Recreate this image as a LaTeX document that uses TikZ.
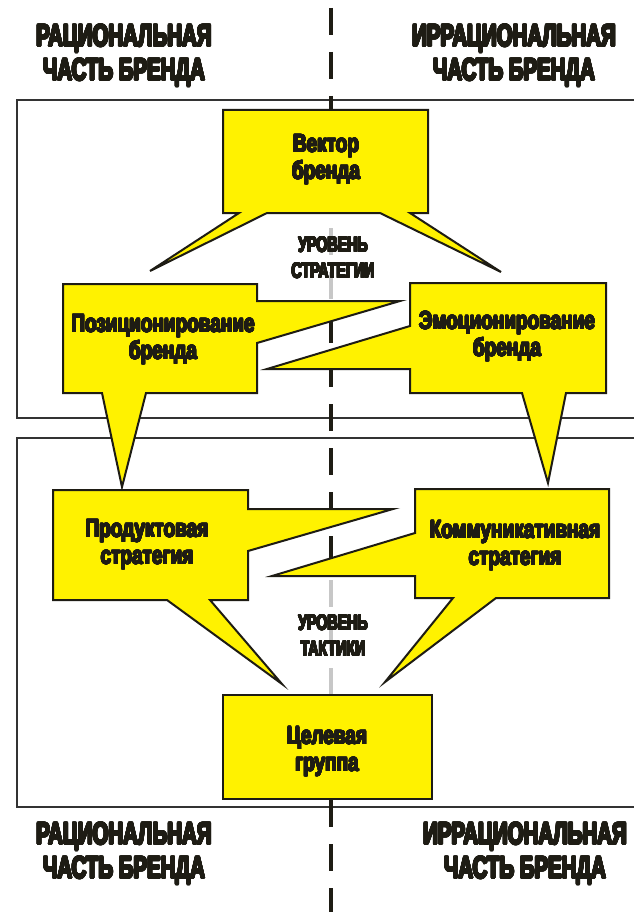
\documentclass[tikz,border=0pt]{standalone}
\usepackage{fontspec}
\usepackage[copies]{contour}
\usepackage{tikz}
\usetikzlibrary{positioning}

\newfontfamily\headfont[FakeStretch=0.66]{Liberation Sans Bold}
\newfontfamily\bubblefont[FakeStretch=0.76]{Liberation Sans Bold}
\definecolor{bubbleyellow}{RGB}{255,242,0}
\definecolor{inkdark}{RGB}{30,28,20}
\contournumber{24}
\newcommand\ink[1]{\contour{inkdark}{#1}}

\begin{document}
\begin{tikzpicture}[x=1pt,y=-1pt,
  frame/.style={draw=black!80,line width=2pt},
  divider/.style={draw=inkdark,line width=4pt,dash pattern=on 27pt off 17pt},
  faded/.style={draw=black!22,line width=3.5pt},
  bubble/.style={fill=bubbleyellow,draw=inkdark,line width=2pt,line join=miter},
  bubbletext/.style={align=center,text=inkdark,font=\contourlength{0.6pt}\bubblefont\fontsize{25}{27}\selectfont},
  sidehead/.style={align=center,text=inkdark,font=\contourlength{0.9pt}\headfont\fontsize{31}{34}\selectfont},
  levelhead/.style={align=center,text=inkdark,font=\contourlength{0.6pt}\headfont\fontsize{21.5}{26}\selectfont}]

\useasboundingbox[fill=white] (0,0) rectangle (633,912);

  % frames of the two levels
  \draw[frame] (640,100) -| (17,418) -- (640,418);
  \draw[frame] (640,438) -| (17,807) -- (640,807);

  % rational / irrational divider
  \coordinate (divtop) at (331,8);
  \coordinate (divbottom) at (331,912);
  \draw[divider] (divtop) -- (divbottom);
  \draw[faded] (331,228) -- (331,255);
  \draw[faded] (331,272) -- (331,299);
  \draw[faded] (331,580) -- (331,607);
  \draw[faded] (331,624) -- (331,651);
  \draw[faded] (331,668) -- (331,695);

  % strategy level
  \draw[bubble] (223,110) -- (428,110) -- (428,213) -- (410,213) -- (501,272)
    -- (380,213) -- (267,213) -- (150,271) -- (239,213) -- (223,213) -- cycle;
  \draw[bubble] (63,284) -- (257,284) -- (257,301) -- (400,301) -- (257,343)
    -- (257,393) -- (146,393) -- (122,487) -- (102,393) -- (63,393) -- cycle;
  \draw[bubble] (410,283) -- (606,283) -- (606,393) -- (566,393) -- (548,483)
    -- (522,393) -- (410,393) -- (410,369) -- (267,369) -- (410,326) -- cycle;

  % tactics level
  \draw[bubble] (53,490) -- (248,490) -- (248,509) -- (393,509) -- (248,551)
    -- (248,600) -- (210,600) -- (282,684) -- (167,600) -- (53,600) -- cycle;
  \draw[bubble] (415,489) -- (609,489) -- (609,598) -- (496,598) -- (385,682)
    -- (453,598) -- (415,598) -- (415,576) -- (272,576) -- (415,533) -- cycle;
  \draw[bubble] (223,695) rectangle (432,799);

  \node[bubbletext] (vector) at (326,160) {\ink{Вектор}\\\ink{бренда}};
  \node[bubbletext] (positioning) at (163,340) {\ink{Позиционирование}\\\ink{бренда}};
  \node[bubbletext] (emotioning) at (507,337) {\ink{Эмоционирование}\\\ink{бренда}};
  \node[bubbletext] (product) at (147,545) {\ink{Продуктовая}\\\ink{стратегия}};
  \node[bubbletext] (communication) at (515,546) {\ink{Коммуникативная}\\\ink{стратегия}};
  \node[bubbletext] (target) at (327,752) {\ink{Целевая}\\\ink{группа}};

  \node[levelhead] (strategylevel) at (333,258) {\ink{УРОВЕНЬ}\\\ink{СТРАТЕГИИ}};
  \node[levelhead] (tacticslevel) at (333,636) {\ink{УРОВЕНЬ}\\\ink{ТАКТИКИ}};

  % side captions
  \node[sidehead] (rationaltop) at (124,56) {\ink{РАЦИОНАЛЬНАЯ}\\\ink{ЧАСТЬ БРЕНДА}};
  \node[sidehead] (irrationaltop) at (514,56) {\ink{ИРРАЦИОНАЛЬНАЯ}\\\ink{ЧАСТЬ БРЕНДА}};
  \node[sidehead] (rationalbottom) at (124,854) {\ink{РАЦИОНАЛЬНАЯ}\\\ink{ЧАСТЬ БРЕНДА}};
  \node[sidehead] (irrationalbottom) at (525,854) {\ink{ИРРАЦИОНАЛЬНАЯ}\\\ink{ЧАСТЬ БРЕНДА}};

\end{tikzpicture}
\end{document}
